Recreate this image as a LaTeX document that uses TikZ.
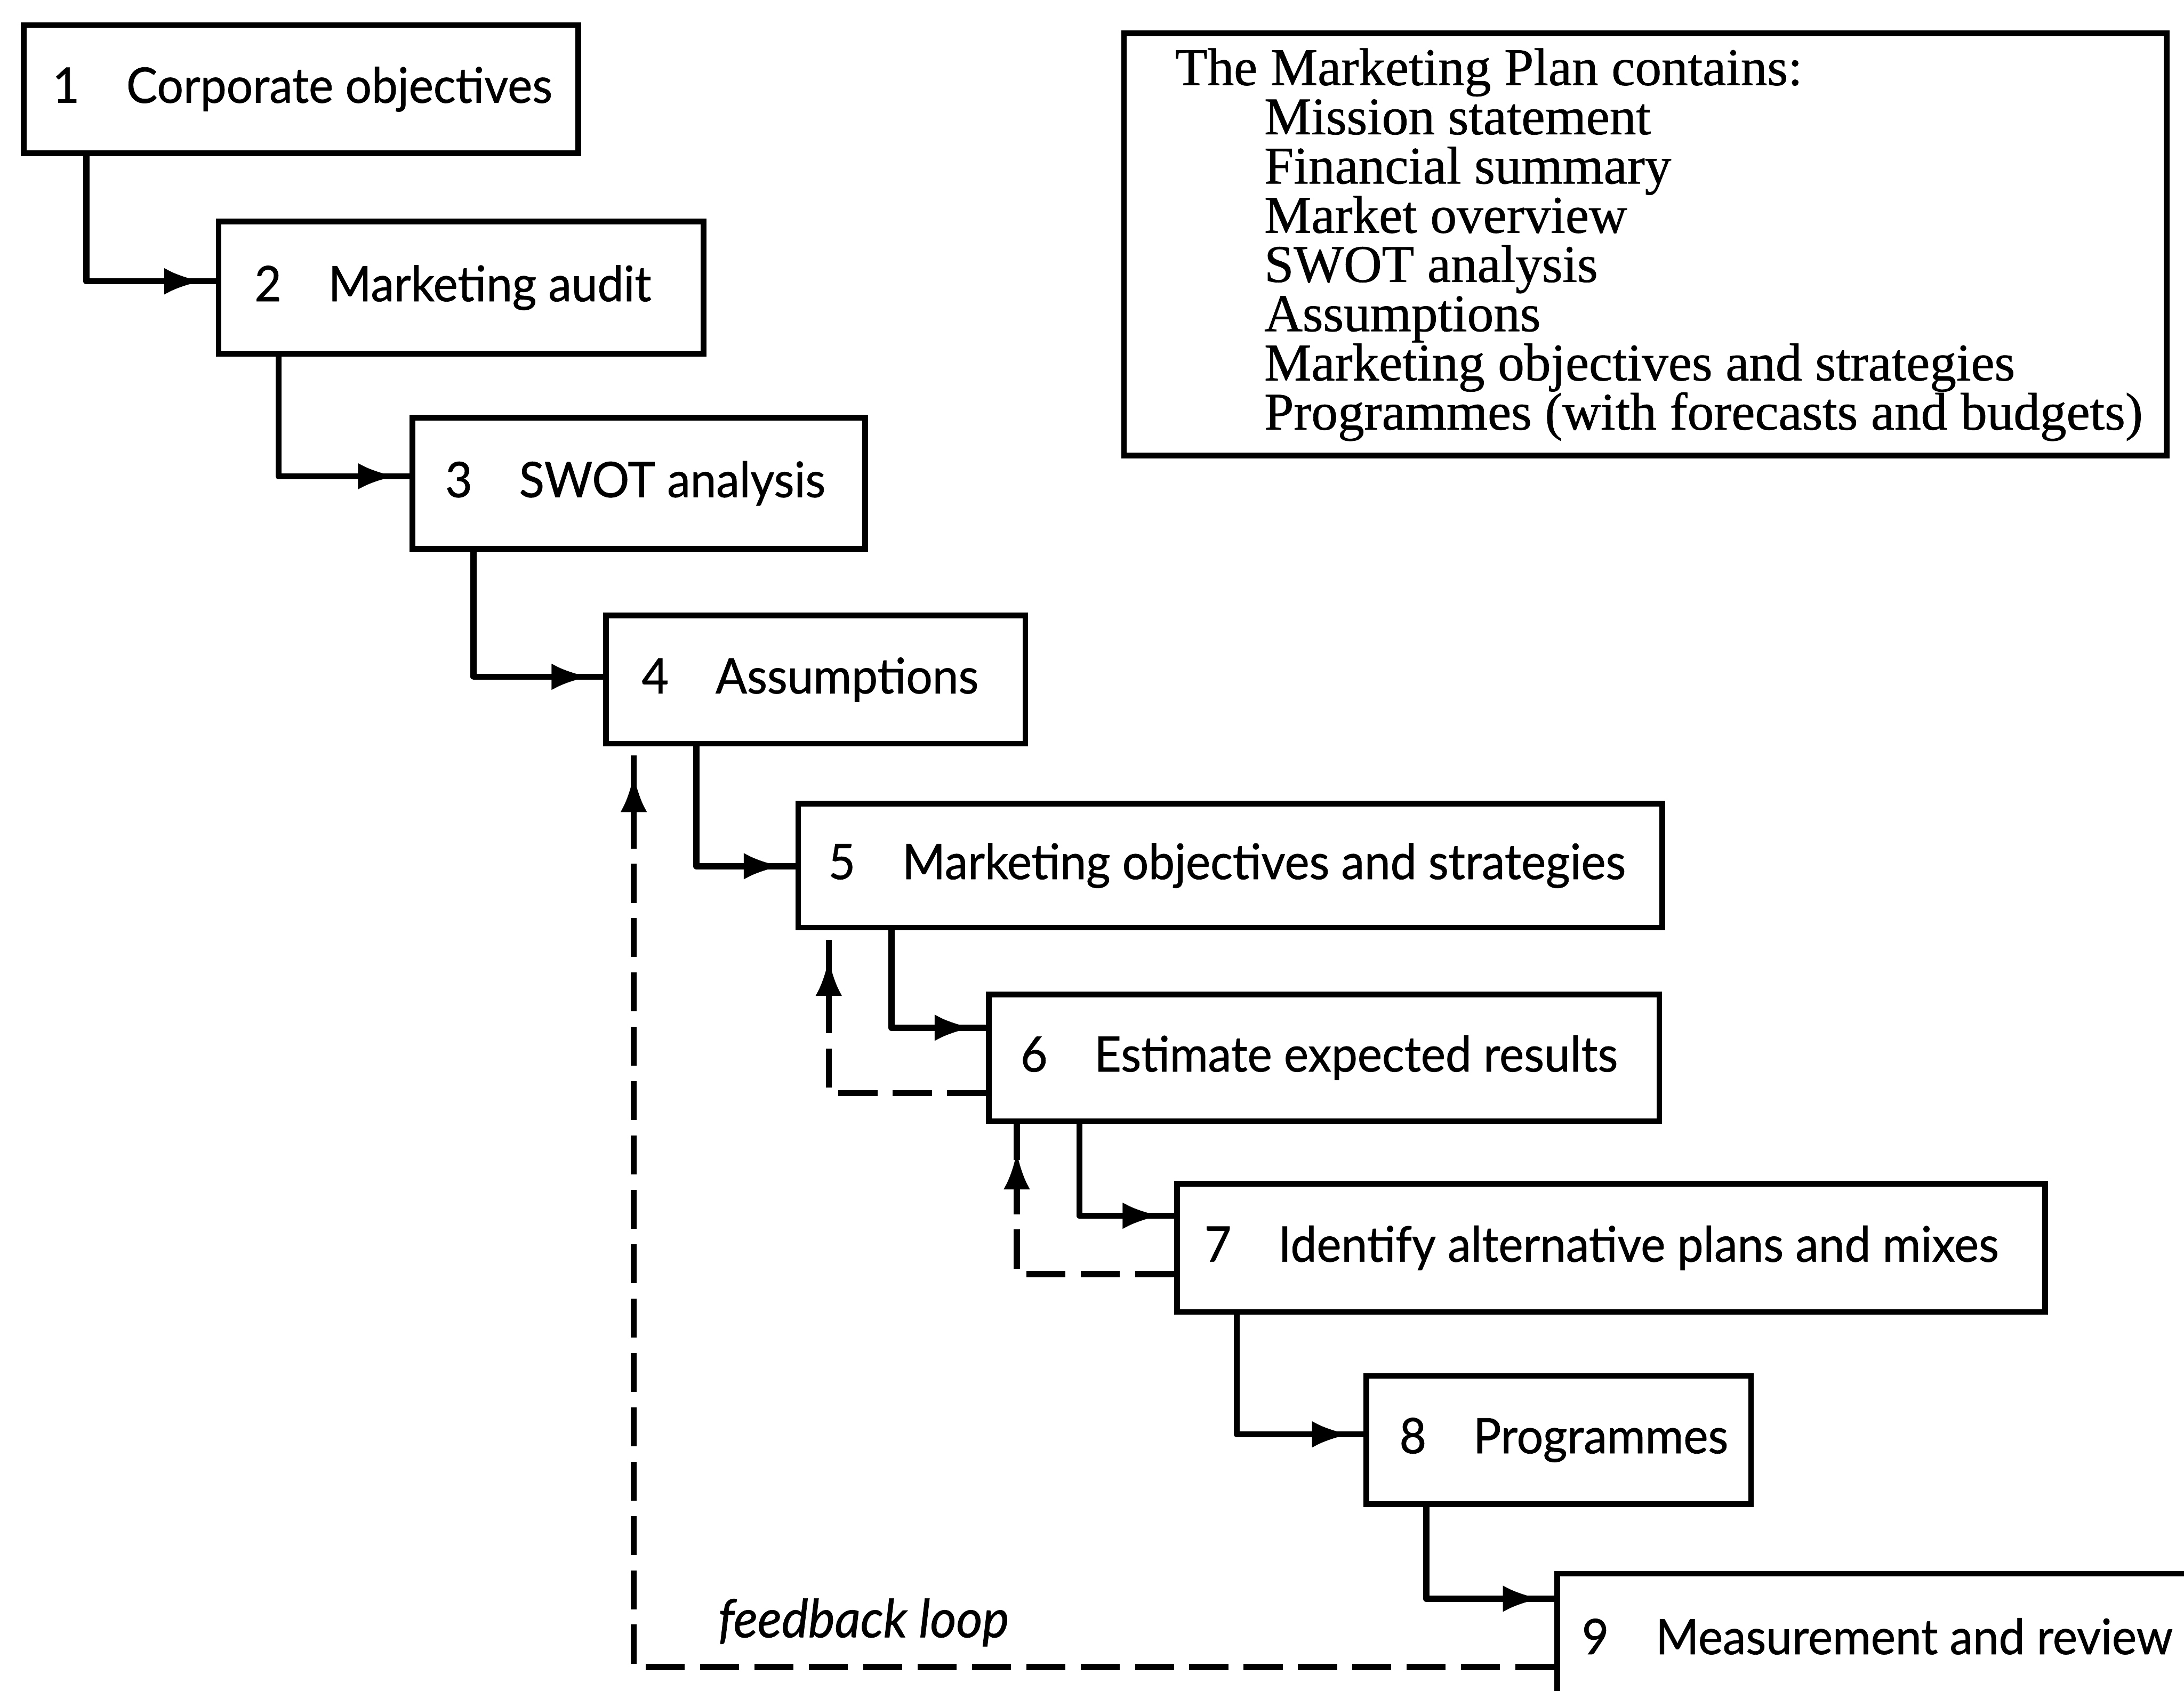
\documentclass[tikz,border=0pt]{standalone}
\usepackage{fontspec}
\setmainfont{Liberation Serif}[FakeBold=0.8]
\newfontfamily\boxfont[FakeStretch=0.95,FakeBold=0.8]{Lato}
\usetikzlibrary{arrows.meta,decorations.markings}

% step number followed by a fixed gap before the step title
\newcommand\stepno[1]{\makebox[0.53cm][l]{#1}}

\begin{document}
\begin{tikzpicture}[x=0.01cm,y=-0.01cm,
  stepbox/.style={draw, line width=1.15pt, anchor=north west,
    minimum height=0.92cm, inner sep=0pt},
  steptext/.style={anchor=west, inner sep=0pt,
    font=\boxfont\fontsize{10}{12}\selectfont},
  flow/.style={line width=1.25pt, line join=round, postaction={decorate},
    decoration={markings, mark=at position -0.1cm with
      {\arrow{Latex[length=0.27cm,width=0.19cm]}}}},
  feedback/.style={line width=1.25pt, line join=round,
    dash pattern=on 0.28cm off 0.11cm, postaction={decorate},
    decoration={markings, mark=at position -0.2cm with
      {\arrow{Latex[length=0.27cm,width=0.19cm]}}}}
]
\useasboundingbox (0,0) rectangle (1568,1214);
\clip (0,0) rectangle (1568,1214);

% planning steps
\node[stepbox, minimum width=3.98cm] (b1) at (15,16) {};
\node[stepbox, minimum width=3.48cm, minimum height=0.95cm] (b2) at (155,157) {};
\node[stepbox, minimum width=3.25cm, minimum height=0.94cm] (b3) at (294,298) {};
\node[stepbox, minimum width=3.01cm] (b4) at (433,440) {};
\node[stepbox, minimum width=6.20cm, minimum height=0.89cm] (b5) at (571,575) {};
\node[stepbox, minimum width=4.81cm, minimum height=0.91cm] (b6) at (708,712) {};
\node[stepbox, minimum width=6.23cm] (b7) at (843,848) {};
\node[stepbox, minimum width=2.76cm] (b8) at (979,986) {};
\node[stepbox, minimum width=5.20cm, minimum height=1.00cm] (b9) at (1116,1128) {};

\node[steptext] (t1) at ([xshift=0.22cm]b1.west) {\stepno{1}Corporate objectives};
\node[steptext] (t2) at ([xshift=0.27cm]b2.west) {\stepno{2}Marketing audit};
\node[steptext] (t3) at ([xshift=0.25cm]b3.west) {\stepno{3}SWOT analysis};
\node[steptext] (t4) at ([xshift=0.27cm]b4.west) {\stepno{4}Assumptions};
\node[steptext] (t5) at ([xshift=0.23cm]b5.west) {\stepno{5}Marketing objectives and strategies};
\node[steptext] (t6) at ([xshift=0.24cm]b6.west) {\stepno{6}Estimate expected results};
\node[steptext] (t7) at ([xshift=0.21cm]b7.west) {\stepno{7}Identify alternative plans and mixes};
\node[steptext] (t8) at ([xshift=0.25cm]b8.west) {\stepno{8}Programmes};
\node[steptext] (t9) at ([xshift=0.19cm,yshift=-0.47cm]b9.north west) {\stepno{9}Measurement and review};

% contents of the plan
\node[draw, line width=1.15pt, anchor=north west, minimum width=7.48cm,
  minimum height=3.03cm, inner sep=0pt] (plan) at (805,22) {};
\node[anchor=north west, align=left, inner sep=0pt,
  font=\fontsize{10.8}{10.05}\selectfont] (plantext) at (843,34)
  {The Marketing Plan contains:\\
   \hspace{0.64cm}Mission statement\\
   \hspace{0.64cm}Financial summary\\
   \hspace{0.64cm}Market overview\\
   \hspace{0.64cm}SWOT analysis\\
   \hspace{0.64cm}Assumptions\\
   \hspace{0.64cm}Marketing objectives and strategies\\
   \hspace{0.64cm}Programmes (with forecasts and budgets)};

% step-to-step flow
\coordinate (j12) at (62,202);
\coordinate (j23) at (200,342);
\coordinate (j34) at (340,486);
\coordinate (j45) at (500,622);
\coordinate (j56) at (640,738);
\coordinate (j67) at (775,873);
\coordinate (j78) at (888,1030);
\coordinate (j89) at (1024,1148);
\draw[flow] (b1.south -| j12) |- (b2.west |- j12);
\draw[flow] (b2.south -| j23) |- (b3.west |- j23);
\draw[flow] (b3.south -| j34) |- (b4.west |- j34);
\draw[flow] (b4.south -| j45) |- (b5.west |- j45);
\draw[flow] (b5.south -| j56) |- (b6.west |- j56);
\draw[flow] (b6.south -| j67) |- (b7.west |- j67);
\draw[flow] (b7.south -| j78) |- (b8.west |- j78);
\draw[flow] (b8.south -| j89) |- (b9.west |- j89);

% feedback paths
\coordinate (r65) at (595,785);
\coordinate (r76) at (730,915);
\coordinate (r94) at (455,1197);
\draw[feedback] (b6.west |- r65) -| (b5.south -| r65);
\draw[feedback] (b7.west |- r76) -| (b6.south -| r76);
\draw[feedback] (b9.west |- r94) -| (b4.south -| r94);
\node[font=\boxfont\itshape\fontsize{10.8}{12}\selectfont, inner sep=0pt]
  (fbl) at (620,1165) {feedback loop};
\end{tikzpicture}
\end{document}
